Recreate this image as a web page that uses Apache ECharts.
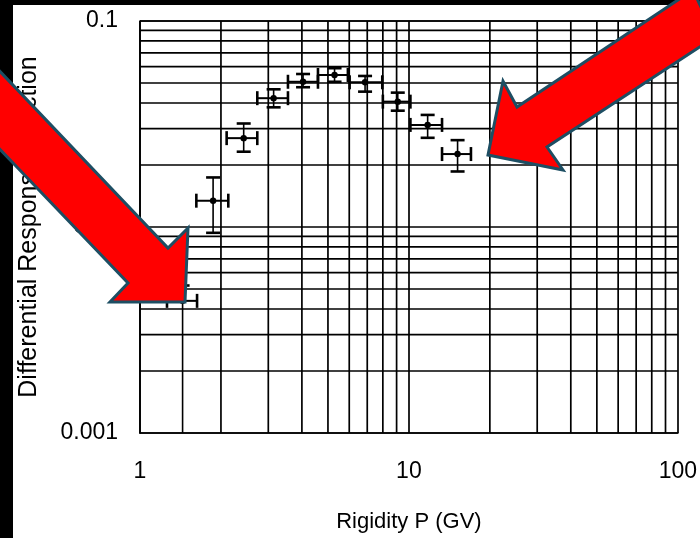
<!DOCTYPE html>
<html>
<head>
<meta charset="utf-8">
<script src="https://cdn.jsdelivr.net/npm/echarts@6/dist/echarts.min.js"></script>
<style>html,body{margin:0;padding:0;background:#fff}#c{width:700px;height:538px}</style>
</head>
<body>
<div id="c"></div>
<script>
// Data
var rigidity   = [1.44, 1.87, 2.43, 3.14, 4.04, 5.29, 6.87, 9.09, 11.74, 15.17];
var response   = [0.00438, 0.01342, 0.0270, 0.0422, 0.0507, 0.0547, 0.0504, 0.0406, 0.0313, 0.0226];
var rigidityLo = [1.26, 1.62, 2.10, 2.73, 3.55, 4.59, 6.02, 8.00, 10.13, 13.28];
var rigidityHi = [1.63, 2.13, 2.73, 3.55, 4.59, 5.93, 7.96, 10.13, 13.28, 17.01];
var responseLo = [0.0007, 0.00937, 0.0232, 0.0381, 0.0477, 0.0507, 0.0454, 0.0367, 0.0271, 0.0186];
var responseHi = [0.0052, 0.0174, 0.0318, 0.0466, 0.0553, 0.0590, 0.0541, 0.0449, 0.0350, 0.0264];
var xMinorGrid = [2,3,4,5,6,7,8,9,20,30,40,50,60,70,80,90];
var yMinorGrid = [0.002,0.003,0.004,0.005,0.006,0.007,0.008,0.009,0.02,0.03,0.04,0.05,0.06,0.07,0.08,0.09];

var FONT = "'Liberation Sans', Arial, Helvetica, sans-serif";
var LINE = '#000';
var LW = 1.7;

var pts = rigidity.map(function(x, i){
  return [x, response[i], rigidityLo[i], rigidityHi[i], responseLo[i], responseHi[i]];
});

function gridV(params, api){
  var cs = params.coordSys;
  var x = api.coord([api.value(0), 0.01])[0];
  return {type:'line', shape:{x1:x, y1:cs.y, x2:x, y2:cs.y+cs.height}, style:{stroke:LINE, lineWidth:LW}};
}
function gridH(params, api){
  var cs = params.coordSys;
  var y = api.coord([10, api.value(0)])[1];
  return {type:'line', shape:{x1:cs.x, y1:y, x2:cs.x+cs.width, y2:y}, style:{stroke:LINE, lineWidth:LW}};
}
function errItem(params, api){
  var x = api.value(0), y = api.value(1);
  var c = api.coord([x, y]);
  var xl = api.coord([api.value(2), y]), xh = api.coord([api.value(3), y]);
  var yl = api.coord([x, api.value(4)]), yh = api.coord([x, api.value(5)]);
  var st = {stroke:'#000', lineWidth:2};
  var cap = {stroke:'#000', lineWidth:2.6};
  return {type:'group', children:[
    {type:'line', shape:{x1:xl[0], y1:c[1], x2:xh[0], y2:c[1]}, style:st},
    {type:'line', shape:{x1:xl[0], y1:c[1]-7, x2:xl[0], y2:c[1]+7}, style:cap},
    {type:'line', shape:{x1:xh[0], y1:c[1]-7, x2:xh[0], y2:c[1]+7}, style:cap},
    {type:'line', shape:{x1:c[0], y1:yl[1], x2:c[0], y2:yh[1]}, style:{stroke:'#000', lineWidth:1.6}},
    {type:'line', shape:{x1:c[0]-7, y1:yl[1], x2:c[0]+7, y2:yl[1]}, style:cap},
    {type:'line', shape:{x1:c[0]-7, y1:yh[1], x2:c[0]+7, y2:yh[1]}, style:cap},
    {type:'circle', shape:{cx:c[0], cy:c[1], r:3.2}, style:{fill:'#000'}}
  ]};
}

var chart = echarts.init(document.getElementById('c'), null, {renderer:'canvas'});
chart.setOption({
  backgroundColor:'#fff',
  animation:false,
  grid:{left:140, right:21, top:21, bottom:105},
  xAxis:{
    type:'log', logBase:10, min:1, max:100,
    name:'Rigidity P (GV)', nameLocation:'middle', nameGap:78,
    nameTextStyle:{fontFamily:FONT, fontSize:22, color:'#000'},
    axisLine:{show:true, lineStyle:{color:LINE, width:LW}},
    axisTick:{show:false},
    axisLabel:{fontFamily:FONT, fontSize:23, color:'#000', margin:27},
    splitLine:{show:true, lineStyle:{color:LINE, width:LW}}
  },
  yAxis:{
    type:'log', logBase:10, min:0.001, max:0.1,
    name:'Differential Response Function', nameLocation:'middle', nameGap:98, nameRotate:90,
    nameTextStyle:{fontFamily:FONT, fontSize:25, color:'#000'},
    axisLine:{show:true, lineStyle:{color:LINE, width:LW}},
    axisTick:{show:false},
    axisLabel:{fontFamily:FONT, fontSize:23, color:'#000', margin:22},
    splitLine:{show:true, lineStyle:{color:LINE, width:LW}}
  },
  graphic:[
    {type:'rect', shape:{x:0, y:0, width:700, height:5}, style:{fill:'#000'}, z:10},
    {type:'rect', shape:{x:0, y:0, width:13, height:538}, style:{fill:'#000'}, z:10},
    {type:'polygon', z:100, shape:{points:[[-10,61],[168,248],[188,228],[185,302],[110,302],[128,283],[-10,139]]},
      style:{fill:'#ff0000', stroke:'#1d4e63', lineWidth:3, lineJoin:'miter'}},
    {type:'polygon', z:100, shape:{points:[[488,155],[503,81],[517,107],[693,-10],[715,37],[547,147],[563,170]]},
      style:{fill:'#ff0000', stroke:'#1d4e63', lineWidth:3, lineJoin:'miter'}}
  ],
  series:[
    {type:'custom', name:'vgrid', renderItem:gridV, data:xMinorGrid.map(function(v){return [v];}), encode:{x:0}, silent:true, z:1},
    {type:'custom', name:'hgrid', renderItem:gridH, data:yMinorGrid.map(function(v){return [v];}), encode:{y:0}, silent:true, z:1},
    {type:'custom', name:'data', renderItem:errItem, data:pts, encode:{x:0, y:1}, clip:true, z:5}
  ]
});
</script>
</body>
</html>
